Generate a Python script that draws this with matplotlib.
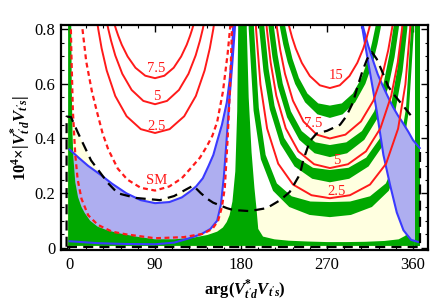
import numpy as np
import matplotlib
matplotlib.use("Agg")
import matplotlib.pyplot as plt
from matplotlib.ticker import MultipleLocator

plt.rcParams['font.family'] = 'Liberation Serif'
plt.rcParams['mathtext.fontset'] = 'custom'
plt.rcParams['mathtext.rm'] = 'Liberation Serif'
plt.rcParams['mathtext.it'] = 'Liberation Serif:italic'
plt.rcParams['mathtext.bf'] = 'Liberation Serif:bold'
plt.rcParams['mathtext.bfit'] = 'Liberation Serif:italic:bold'

GREEN = '#00a800'
CREAM = '#ffffe0'
LAV = '#aeaef0'
BLUE = '#3a3aff'
RED = '#ff1a1a'

# ---- right group (centred near 270): red contours 15, 7.5, 5, 2.5
r15_x = [228.5, 231, 233.5, 237.3, 243.6, 252, 262.5, 273, 283.3, 293.5, 301.7, 307.9, 311.5, 314, 316.5]
r15_y = [.836, .800, .768, .728, .676, .628, .594, .584, .594, .628, .676, .728, .768, .800, .836]
r75_x = [214.4, 217.7, 221, 226, 234.3, 245.35, 259.2, 273, 289.25, 305.5, 318.5, 328.25, 334.1, 338, 341.9]
r75_y = [.900, .800, .723, .636, .538, .462, .414, .400, .414, .462, .538, .636, .723, .800, .900]
r5_x = [203, 207, 211, 216.9, 226.8, 240, 256.5, 273, 291.9, 310.75, 325.85, 337.2, 344, 348.5, 353]
r5_y = [.983, .800, .677, .556, .437, .353, .306, .292, .306, .353, .437, .556, .677, .800, .983]
r25_x = [191.1, 195.7, 200.3, 207.3, 218.9, 234.35, 253.7, 273, 294, 315, 331.8, 344.4, 352, 357, 362]
r25_y = [1.226, .800, .597, .436, .308, .232, .193, .182, .193, .232, .308, .436, .597, .800, 1.226]

# ---- green bands (outer / inner edges)
b1o_x = [217.9, 221, 224.1, 228.8, 236.6, 247, 260, 273, 286.3, 299.5, 310.1, 318.1, 322.8, 326, 329.2]
b1o_y = [.867, .800, .744, .678, .599, .532, .488, .475, .488, .532, .599, .678, .744, .800, .867]
b1i_x = [223.4, 226.5, 229.6, 233.8, 240.6, 249.5, 260.8, 273, 285.5, 297, 306.1, 313.1, 317.3, 320.5, 323.7]
b1i_y = [.867, .805, .752, .691, .621, .564, .528, .520, .528, .564, .621, .691, .752, .805, .867]
b2o_x = [205.2, 209, 212.8, 218.6, 228.2, 241, 257, 273, 291, 309, 323.4, 334.2, 340.7, 345, 349.3]
b2o_y = [.944, .800, .697, .588, .477, .395, .346, .332, .346, .395, .477, .588, .697, .800, .944]
b2i_x = [210.7, 214.5, 218.3, 223.6, 232.2, 243.5, 257.8, 273, 290.2, 306.5, 319.4, 329.2, 335.2, 339.5, 343.8]
b2i_y = [.944, .805, .705, .601, .499, .427, .386, .376, .386, .427, .499, .601, .705, .805, .944]
b3o_x = [194.6, 199, 203.4, 210.1, 221.2, 236, 254.5, 273, 293.25, 313.5, 329.7, 341.85, 349.1, 354, 358.9]
b3o_y = [1.058, .800, .646, .506, .380, .298, .253, .240, .253, .298, .380, .506, .646, .800, 1.058]
b3i_x = [200.1, 204.5, 208.9, 215.1, 225.2, 238.5, 255.3, 273, 292.45, 311, 325.7, 336.85, 343.6, 348.5, 353.4]
b3i_y = [1.058, .805, .654, .519, .402, .330, .293, .285, .293, .330, .402, .519, .654, .805, 1.058]
b4o_x = [182.9, 188, 193.1, 200.75, 213.5, 230.5, 251.75, 273, 295, 317, 334.6, 347.8, 355.7, 361, 366.3]
b4o_y = [2.025, .801, .502, .324, .209, .150, .121, .113, .121, .150, .209, .324, .502, .801, 2.025]
b4i_x = [188.4, 193.5, 198.6, 205.75, 217.5, 233, 252.55, 273, 294.2, 315, 331.6, 344.8, 352.7, 358, 363.3]
b4i_y = [2.025, .807, .512, .340, .236, .189, .170, .168, .170, .189, .236, .340, .512, .807, 2.025]

# green base (left strip, bottom strip, spike at 180)
g_x = [-1, 2.2, 2.8, 3.6, 4.5, 6.5, 9.4, 13, 16.4, 22, 30, 40, 51, 70, 90, 110, 130, 145, 155, 161,
       165, 168, 171, 174, 176, 177, 177, 186, 186, 188, 191, 194, 196, 198, 203, 215, 230, 250, 270,
       290, 310, 330, 345, 352, 357, 360, 362, 362, -1]
g_y = [0.85, 0.85, 0.6, 0.42, 0.33, 0.24, 0.186, 0.15, 0.128, 0.10, 0.078, 0.065, 0.055, 0.042, 0.032,
       0.032, 0.038, 0.048, 0.06, 0.075, 0.095, 0.12, 0.17, 0.28, 0.5, 0.8, 0.85, 0.85, 0.8, 0.55, 0.35,
       0.22, 0.15, 0.07, 0.042, 0.032, 0.027, 0.024, 0.022, 0.022, 0.023, 0.026, 0.032, 0.045, 0.07,
       0.12, 0.4, 0.008, 0.008]
# right-hand green strip
gs_x = [362, 367, 367, 362]
gs_y = [0.008, 0.008, 0.85, 0.85]

# ---- left group (centred near 90)
l75_x = [46.54, 49, 51.46, 55.15, 61.3, 69.5, 79.75, 90, 99.75, 109.5, 117.3, 123.15, 126.66, 129, 131.34]
l75_y = [.828, .800, .775, .742, .699, .658, .629, .620, .629, .658, .699, .742, .775, .800, .828]
l5_x = [38.06, 41, 43.94, 48.35, 55.7, 65.5, 77.75, 90, 102.5, 115, 125, 132.5, 137, 140, 143]
l5_y = [.852, .800, .757, .703, .636, .577, .537, .525, .537, .577, .636, .703, .757, .800, .852]
l25_x = [26.9, 30.5, 34.07, 39.4, 48.35, 60.25, 75.1, 90, 105.25, 120.5, 132.7, 141.85, 147.3, 151, 154.7]
l25_y = [.890, .800, .729, .648, .555, .481, .434, .420, .434, .481, .555, .648, .729, .800, .890]

# SM band (red dashed)
smu_x = [12, 14, 18, 24, 29, 35, 41, 51, 61, 75, 90, 105, 118, 127, 137, 144, 150, 155, 161, 166, 169]
smu_y = [0.86, 0.8, 0.68, 0.57, 0.50, 0.42, 0.36, 0.29, 0.25, 0.22, 0.21, 0.225, 0.255, 0.29, 0.33,
         0.37, 0.41, 0.46, 0.57, 0.71, 0.82]
sml_x = [1.5, 2.5, 4, 6.5, 9, 13, 20, 30, 45, 60, 90, 120, 140, 150, 156, 160, 163, 166, 168.5, 170.5, 171.5]
sml_y = [0.86, 0.7, 0.5, 0.34, 0.25, 0.18, 0.12, 0.085, 0.06, 0.05, 0.036, 0.04, 0.052, 0.07, 0.10,
         0.15, 0.22, 0.40, 0.59, 0.8, 0.86]

# blue regions
ub_x = [0.5, 10, 20, 32, 45, 60, 75, 90, 105, 118, 126, 133, 140, 146, 151, 155, 160, 165, 168, 170.6, 171.6, 172.3]
ub_y = [0.36, 0.33, 0.30, 0.27, 0.235, 0.2, 0.175, 0.164, 0.168, 0.185, 0.205, 0.225, 0.255, 0.30,
        0.34, 0.39, 0.45, 0.53, 0.61, 0.71, 0.80, 0.86]
lb_x = [0.5, 30, 60, 90, 110, 125, 138, 148, 155, 159, 162, 165, 168, 171, 173.5, 174.5]
lb_y = [0.025, 0.018, 0.015, 0.014, 0.02, 0.035, 0.05, 0.07, 0.10, 0.16, 0.26, 0.40, 0.55, 0.68, 0.80, 0.86]
ba_x = [305.5, 306.6, 311, 315, 322, 329, 336, 343, 350, 358, 366]
ba_y = [0.86, 0.81, 0.72, 0.64, 0.50, 0.34, 0.23, 0.13, 0.065, 0.03, 0.022]
bb_x = [306, 307.7, 313, 318, 323, 328.6, 334, 339, 344, 349.5, 355, 360, 367]
bb_y = [0.86, 0.807, 0.74, 0.686, 0.635, 0.59, 0.55, 0.515, 0.485, 0.456, 0.425, 0.394, 0.365]

# black dashed bound
bk_x = [-2.6, -2.6, 2, 9.4, 23, 40.8, 51, 70, 95, 110, 123, 130, 138, 145.5, 150.7, 165, 171.6, 189,
        207, 221, 231, 241.7, 245, 252, 259, 270, 283.6, 290, 297, 302, 307, 312, 317, 322, 327, 334,
        340, 349.5, 357.5]
bk_y = [0.005, 0.48, 0.478, 0.42, 0.32, 0.237, 0.20, 0.183, 0.175, 0.19, 0.215, 0.228, 0.20, 0.178,
        0.166, 0.146, 0.139, 0.135, 0.146, 0.175, 0.205, 0.27, 0.32, 0.39, 0.418, 0.428, 0.45, 0.48,
        0.53, 0.59, 0.645, 0.69, 0.715, 0.69, 0.65, 0.59, 0.56, 0.52, 0.485]
edge_x = [-2.6, 367, 367]
edge_y = [0.005, 0.005, 0.365]

# contour labels
lab_text = ["7.5", "5", "2.5", "SM", "15", "7.5", "5", "2.5"]
lab_x = [91, 92, 92, 92, 280, 256, 280, 280]
lab_y = [0.656, 0.552, 0.443, 0.248, 0.631, 0.455, 0.321, 0.205]

xticks = [0, 90, 180, 270, 360]
yticks = [0, 0.2, 0.4, 0.6, 0.8]
ytick_labels = ["0", "0.2", "0.4", "0.6", "0.8"]


def band(ax, xo, yo, xi, yi):
    ax.fill(list(xo) + list(xi[::-1]), list(yo) + list(yi[::-1]), color=GREEN, lw=0, zorder=3)


fig = plt.figure(figsize=(4.36, 3.05), dpi=100)
ax = fig.add_axes([0.14, 0.18, 0.8417, 0.738])

# cream: below black dashed bound
ax.fill(bk_x + [357.5], bk_y + [0.005], color=CREAM, lw=0, zorder=1)

# lavender (left one sits under the green)
ax.fill(lb_x + ub_x[::-1], lb_y + ub_y[::-1], color=LAV, lw=0, zorder=2)

# green
ax.fill(g_x, g_y, color=GREEN, lw=0, zorder=3)
band(ax, b1o_x, b1o_y, b1i_x, b1i_y)
band(ax, b2o_x, b2o_y, b2i_x, b2i_y)
band(ax, b3o_x, b3o_y, b3i_x, b3i_y)
band(ax, b4o_x, b4o_y, b4i_x, b4i_y)

# right lavender over the bands, right strip over that
ax.fill(ba_x + [367] + bb_x[::-1], ba_y + [0.365] + bb_y[::-1], color=LAV, lw=0, zorder=3.5)
ax.fill(gs_x, gs_y, color=GREEN, lw=0, zorder=3.6)

# blue lines
for xs, ys in [(ub_x, ub_y), (lb_x, lb_y), (ba_x, ba_y), (bb_x, bb_y)]:
    ax.plot(xs, ys, color=BLUE, lw=1.5, zorder=5)

# red contours
for xs, ys in [(r15_x, r15_y), (r75_x, r75_y), (r5_x, r5_y), (r25_x, r25_y),
               (l75_x, l75_y), (l5_x, l5_y), (l25_x, l25_y)]:
    ax.plot(xs, ys, color=RED, lw=1.4, zorder=6)
for xs, ys in [(smu_x, smu_y), (sml_x, sml_y)]:
    ax.plot(xs, ys, color=RED, lw=1.6, ls=(0, (2.2, 1.6)), zorder=6)

# black dashed
ax.plot(bk_x, bk_y, color='black', lw=1.6, ls=(0, (4.5, 2.8)), zorder=7)
ax.plot(edge_x, edge_y, color='black', lw=1.6, ls=(0, (4.5, 2.8)), zorder=7)

for t, x, y in zip(lab_text, lab_x, lab_y):
    ax.text(x, y, t, color=RED, fontsize=10.5, ha='center', va='center', zorder=8)

ax.set_xlim(-8.4, 375.7)
ax.set_ylim(-0.0073, 0.814)
ax.set_xticks(xticks)
ax.set_yticks(yticks)
ax.set_yticklabels(ytick_labels)
ax.xaxis.set_minor_locator(MultipleLocator(18))
ax.yaxis.set_minor_locator(MultipleLocator(0.05))
ax.tick_params(which='both', direction='in', top=True, right=True, labelsize=12)
ax.tick_params(which='major', length=5, width=1)
ax.tick_params(which='minor', length=2.5, width=0.8)
ax.tick_params(axis='x', pad=5)
ax.tick_params(axis='y', pad=4)
for s in ax.spines.values():
    s.set_linewidth(1.6)
    s.set_zorder(10)

ax.set_xlabel(r"$\mathbf{arg(}\mathbfit{V}^{\mathbf{*}}_{\mathbfit{t'd}}\mathbfit{V}_{\mathbfit{t's}}\mathbf{)}$",
              fontsize=12, labelpad=3)
ax.set_ylabel(r"$\mathbf{10^4{\times}|}\mathbfit{V}^{\mathbf{*}}_{\mathbfit{t'd}}\mathbfit{V}_{\mathbfit{t's}}\mathbf{|}$",
              fontsize=12, labelpad=2)

fig.savefig("out.png", dpi=100)
